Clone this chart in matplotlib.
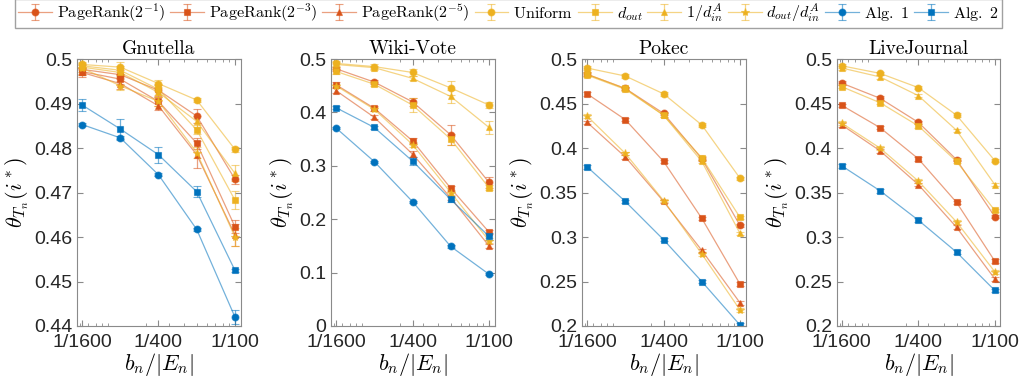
import matplotlib
matplotlib.use("Agg")
import matplotlib.pyplot as plt
from matplotlib.ticker import FixedLocator, FuncFormatter, LogLocator, NullFormatter

plt.rcParams['mathtext.fontset'] = 'cm'
plt.rcParams['font.family'] = ['Liberation Sans', 'DejaVu Sans']

X = [1/1600, 1/800, 1/400, 1/200, 1/100]
X_TICKS = [1/1600, 1/400, 1/100]
X_TICK_LABELS = ['1/1600', '1/400', '1/100']

TITLES = ['Gnutella', 'Wiki-Vote', 'Pokec', 'LiveJournal']
YLIMS = [(0.44, 0.5), (0.0, 0.5), (0.2, 0.5), (0.2, 0.5)]
YTICKS = [[0.44, 0.45, 0.46, 0.47, 0.48, 0.49, 0.5],
          [0, 0.1, 0.2, 0.3, 0.4, 0.5],
          [0.2, 0.25, 0.3, 0.35, 0.4, 0.45, 0.5],
          [0.2, 0.25, 0.3, 0.35, 0.4, 0.45, 0.5]]

LABELS = [r'$\mathrm{PageRank}(2^{-1})$', r'$\mathrm{PageRank}(2^{-3})$', r'$\mathrm{PageRank}(2^{-5})$',
          r'$\mathrm{Uniform}$', r'$d_{out}$', r'$1/d_{in}^A$', r'$d_{out}/d_{in}^A$',
          r'$\mathrm{Alg.\ 1}$', r'$\mathrm{Alg.\ 2}$']

# Gnutella
gnu_pr1 = [0.4977, 0.4965, 0.4930, 0.4872, 0.4730]
gnu_pr3 = [0.4972, 0.4955, 0.4905, 0.4811, 0.4623]
gnu_pr5 = [0.4970, 0.4945, 0.4895, 0.4785, 0.4605]
gnu_unif = [0.4988, 0.4982, 0.4945, 0.4908, 0.4797]
gnu_dout = [0.4985, 0.4975, 0.4932, 0.4841, 0.4683]
gnu_din = [0.4982, 0.4970, 0.4925, 0.4860, 0.4743]
gnu_ratio = [0.4980, 0.4940, 0.4905, 0.4790, 0.4600]
gnu_alg1 = [0.4853, 0.4823, 0.4740, 0.4617, 0.4420]
gnu_alg2 = [0.4897, 0.4843, 0.4785, 0.4702, 0.4525]

# Wiki-Vote
wiki_pr1 = [0.482, 0.457, 0.420, 0.358, 0.269]
wiki_pr3 = [0.452, 0.408, 0.347, 0.258, 0.176]
wiki_pr5 = [0.441, 0.391, 0.322, 0.240, 0.150]
wiki_unif = [0.492, 0.486, 0.475, 0.446, 0.414]
wiki_dout = [0.477, 0.453, 0.414, 0.350, 0.259]
wiki_din = [0.490, 0.484, 0.464, 0.430, 0.372]
wiki_ratio = [0.450, 0.406, 0.340, 0.250, 0.160]
wiki_alg1 = [0.371, 0.308, 0.233, 0.149, 0.097]
wiki_alg2 = [0.409, 0.372, 0.309, 0.237, 0.168]

# Pokec
pok_pr1 = [0.483, 0.467, 0.439, 0.388, 0.313]
pok_pr3 = [0.461, 0.432, 0.385, 0.321, 0.247]
pok_pr5 = [0.429, 0.390, 0.340, 0.285, 0.226]
pok_unif = [0.490, 0.481, 0.461, 0.426, 0.366]
pok_dout = [0.483, 0.467, 0.437, 0.389, 0.322]
pok_din = [0.482, 0.466, 0.437, 0.385, 0.304]
pok_ratio = [0.436, 0.394, 0.341, 0.281, 0.218]
pok_alg2 = [0.379, 0.340, 0.297, 0.250, 0.201]

# LiveJournal
lj_pr1 = [0.473, 0.456, 0.429, 0.387, 0.323]
lj_pr3 = [0.448, 0.423, 0.388, 0.339, 0.273]
lj_pr5 = [0.426, 0.397, 0.359, 0.311, 0.253]
lj_unif = [0.4925, 0.484, 0.468, 0.437, 0.386]
lj_dout = [0.469, 0.451, 0.425, 0.385, 0.330]
lj_din = [0.490, 0.480, 0.459, 0.420, 0.359]
lj_ratio = [0.428, 0.400, 0.363, 0.317, 0.261]
lj_alg2 = [0.380, 0.352, 0.319, 0.283, 0.240]

# error bars (half widths)
gnu_err = [[0.0010, 0.0010, 0.0012, 0.0015, 0.0010],
           [0.0008, 0.0012, 0.0010, 0.0012, 0.0015],
           [0.0010, 0.0012, 0.0010, 0.0030, 0.0025],
           [0.0006, 0.0012, 0.0008, 0.0005, 0.0005],
           [0.0020, 0.0010, 0.0012, 0.0010, 0.0020],
           [0.0010, 0.0010, 0.0010, 0.0012, 0.0018],
           [0.0010, 0.0010, 0.0010, 0.0012, 0.0020],
           [0.0003, 0.0004, 0.0003, 0.0004, 0.0015],
           [0.0013, 0.0023, 0.0018, 0.0013, 0.0004]]
wiki_err = [[0.004, 0.004, 0.008, 0.018, 0.010],
            [0.005, 0.005, 0.005, 0.005, 0.004],
            [0.005, 0.004, 0.005, 0.004, 0.004],
            [0.004, 0.004, 0.006, 0.013, 0.005],
            [0.005, 0.004, 0.013, 0.010, 0.005],
            [0.004, 0.004, 0.004, 0.013, 0.012],
            [0.004, 0.004, 0.004, 0.004, 0.004],
            [0.002, 0.002, 0.002, 0.002, 0.002],
            [0.003, 0.003, 0.007, 0.004, 0.006]]
pok_err = [[0.002] * 5 for _ in range(9)]
lj_err = [[0.002] * 5 for _ in range(9)]

DATA = [
    [gnu_pr1, gnu_pr3, gnu_pr5, gnu_unif, gnu_dout, gnu_din, gnu_ratio, gnu_alg1, gnu_alg2],
    [wiki_pr1, wiki_pr3, wiki_pr5, wiki_unif, wiki_dout, wiki_din, wiki_ratio, wiki_alg1, wiki_alg2],
    [pok_pr1, pok_pr3, pok_pr5, pok_unif, pok_dout, pok_din, pok_ratio, None, pok_alg2],
    [lj_pr1, lj_pr3, lj_pr5, lj_unif, lj_dout, lj_din, lj_ratio, None, lj_alg2],
]
ERRS = [gnu_err, wiki_err, pok_err, lj_err]

ORANGE = (0.851, 0.325, 0.098)
YELLOW = (0.929, 0.694, 0.125)
BLUE = (0.0, 0.447, 0.741)
COLORS = [ORANGE, ORANGE, ORANGE, YELLOW, YELLOW, YELLOW, YELLOW, BLUE, BLUE]
MARKERS = ['o', 's', '^', 'o', 's', '^', '*', 'o', 's']
MSIZES = [5, 4.5, 5, 5, 4.5, 5, 6, 5, 4.5]

fig = plt.figure(figsize=(10.23, 3.89), dpi=100)
lefts = [0.0753, 0.3236, 0.569, 0.818]
handles = []
for k in range(4):
    ax = fig.add_axes([lefts[k], 0.162, 0.160, 0.686])
    for j in range(9):
        y = DATA[k][j]
        if y is None:
            continue
        c = COLORS[j]
        faded = c + (0.55,)
        h = ax.errorbar(X, y, yerr=ERRS[k][j], color=faded, ecolor=faded, lw=0.9, elinewidth=0.9,
                        capsize=3, capthick=0.9, marker=MARKERS[j], ms=MSIZES[j],
                        mfc=c, mec=c + (0.6,), mew=0.8, label=LABELS[j])
        if k == 0:
            handles.append(h)
    ax.set_xscale('log')
    ax.set_xlim(1/1600 / 2**0.13, 1/100 * 2**0.15)
    ax.set_ylim(*YLIMS[k])
    ax.xaxis.set_major_locator(FixedLocator(X_TICKS))
    ax.xaxis.set_major_formatter(FuncFormatter(lambda v, p: X_TICK_LABELS[p] if p is not None and p < 3 else ''))
    ax.xaxis.set_minor_locator(LogLocator(base=10, subs=range(1, 10)))
    ax.xaxis.set_minor_formatter(NullFormatter())
    ax.set_yticks(YTICKS[k])
    ax.yaxis.set_major_formatter(FuncFormatter(lambda v, p: '%g' % round(v, 3)))
    ax.tick_params(which='both', direction='in', top=True, right=True, colors='#8a8a8a',
                   labelcolor='#262626', labelsize=14)
    ax.tick_params(which='major', length=4)
    ax.tick_params(which='minor', length=2)
    ax.tick_params(axis='x', which='major', pad=6)
    for s in ax.spines.values():
        s.set_color('#8a8a8a')
        s.set_linewidth(0.8)
    ax.set_title(TITLES[k], fontfamily='cmr10', fontsize=14, pad=4)
    ax.set_xlabel(r'$b_n/|E_n|$', fontsize=16, labelpad=0)
    ax.set_ylabel(r'$\theta_{T_n}(i^*)$', fontsize=16, labelpad=2)

fig.legend(handles, LABELS, loc='upper center', bbox_to_anchor=(0.497, 1.012), ncol=9,
           fontsize=11.6, frameon=True, fancybox=False, edgecolor='#8a8a8a',
           handlelength=2.1, handletextpad=0.3, columnspacing=0.3, borderpad=0.2,
           borderaxespad=0.2)

plt.savefig('out.png', dpi=100)
